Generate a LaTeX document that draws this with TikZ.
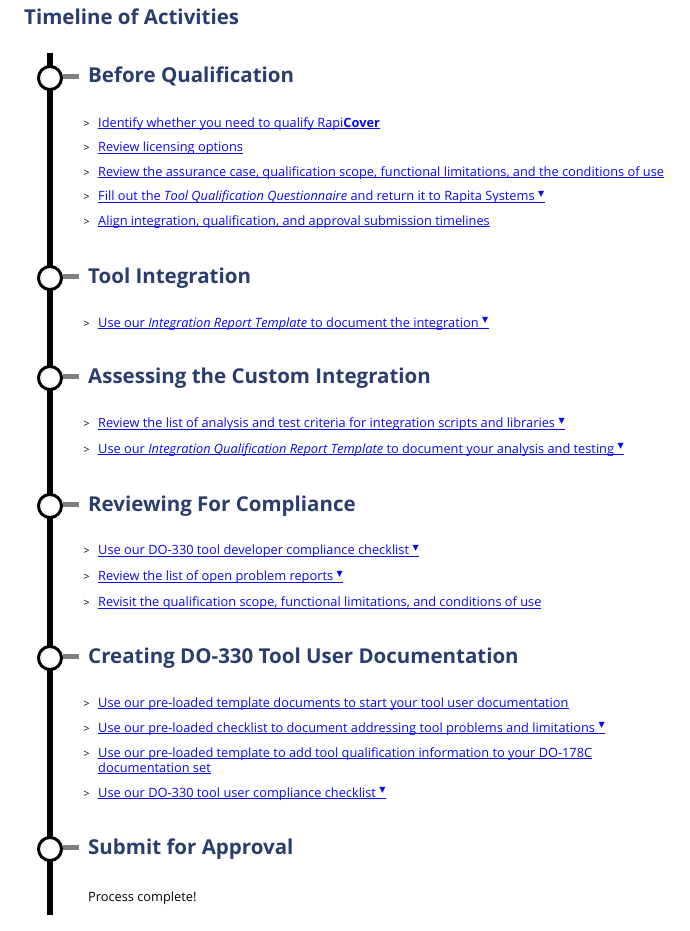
\documentclass[tikz,border=0pt]{standalone}
\usepackage{fontspec}
\setmainfont{Open Sans}
\newfontfamily\symfont{DejaVu Sans}
\definecolor{headc}{RGB}{42,62,110}
\definecolor{lnkc}{RGB}{10,10,240}
\definecolor{tickc}{RGB}{128,128,128}
\newcommand\lnk[1]{\sbox0{#1}\rlap{\rule[-2pt]{\wd0}{0.8pt}}\box0}
\newcommand\tri{\hspace{3.5pt}\raisebox{4.5pt}{\symfont\fontsize{8}{8}\selectfont ▼}\hspace{0.5pt}}
\tikzset{
  titletext/.style={anchor=base west, inner sep=0pt, font=\fontsize{20.5}{24}\selectfont\bfseries, text=headc},
  heading/.style={anchor=base west, inner sep=0pt, font=\fontsize{20.5}{24}\selectfont\bfseries, text=headc},
  item/.style={anchor=base west, inner sep=0pt, font=\fontsize{12.8}{15}\selectfont, text=lnkc},
  plain/.style={anchor=base west, inner sep=0pt, font=\fontsize{12.8}{15}\selectfont, text=black},
  bullet/.style={anchor=base west, inner sep=0pt, font=\fontsize{10.5}{11}\selectfont, text=black},
  dot/.style={circle, draw=black, line width=3pt, minimum size=23pt, inner sep=0pt, fill=white},
  spine/.style={line width=5.5pt, draw=black},
  stub/.style={line width=5pt, draw=tickc}
}
\begin{document}
\begin{tikzpicture}[x=1pt,y=-1pt]
\useasboundingbox[fill=white] (0,0) rectangle (689,931);
\node[titletext] (title) at (24,25) {Timeline of Activities};
\coordinate (top) at (50,53);
\coordinate (bottom) at (50,915);
\draw[spine] (top) -- (bottom);
% section markers
\foreach \n/\y in {1/78,2/278,3/378,4/506,5/658,6/849}{
  \node[dot] (c\n) at (50,\y) {};
  \draw[stub] ([yshift=1.5pt]c\n.east) -- ++(16,0);
}
% headings
\node[heading] (h1) at (88,83) {Before Qualification};
\node[heading] (h2) at (88,283) {Tool Integration};
\node[heading] (h3) at (88,383) {Assessing the Custom Integration};
\node[heading] (h4) at (88,511) {Reviewing For Compliance};
\node[heading] (h5) at (88,663) {Creating DO-330 Tool User Documentation};
\node[heading] (h6) at (88,854) {Submit for Approval};
% bullets
\foreach \y [count=\i] in {127.3,151.7,176,200.5,225,327,427.5,453,554.5,580.5,606.5,707,732,757,797}{
  \node[bullet] (b\i) at (83.5,\y) {>};
}
% items
\node[item] (i1) at (98,127.3) {\lnk{Identify whether you need to qualify Rapi\textbf{Cover}}};
\node[item] (i2) at (98,151.7) {\lnk{Review licensing options}};
\node[item] (i3) at (98,176) {\lnk{Review the assurance case, qualification scope, functional limitations, and the conditions of use}};
\node[item] (i4) at (98,200.5) {\lnk{Fill out the \textit{Tool Qualification Questionnaire} and return it to Rapita Systems\tri}};
\node[item] (i5) at (98,225) {\lnk{Align integration, qualification, and approval submission timelines}};
\node[item] (i6) at (98,327) {\lnk{Use our \textit{Integration Report Template} to document the integration\tri}};
\node[item] (i7) at (98,427.5) {\lnk{Review the list of analysis and test criteria for integration scripts and libraries\tri}};
\node[item] (i8) at (98,453) {\lnk{Use our \textit{Integration Qualification Report Template} to document your analysis and testing\tri}};
\node[item] (i9) at (98,554.5) {\lnk{Use our DO-330 tool developer compliance checklist\tri}};
\node[item] (i10) at (98,580.5) {\lnk{Review the list of open problem reports\tri}};
\node[item] (i11) at (98,606.5) {\lnk{Revisit the qualification scope, functional limitations, and conditions of use}};
\node[item] (i12) at (98,707) {\lnk{Use our pre-loaded template documents to start your tool user documentation}};
\node[item] (i13) at (98,732) {\lnk{Use our pre-loaded checklist to document addressing tool problems and limitations\tri}};
\node[item] (i14) at (98,757) {\lnk{Use our pre-loaded template to add tool qualification information to your DO-178C}};
\node[item] (i14b) at (98,772) {\lnk{documentation set}};
\node[item] (i15) at (98,797) {\lnk{Use our DO-330 tool user compliance checklist\tri}};
\node[plain] (p1) at (88,901) {Process complete!};
\end{tikzpicture}
\end{document}
